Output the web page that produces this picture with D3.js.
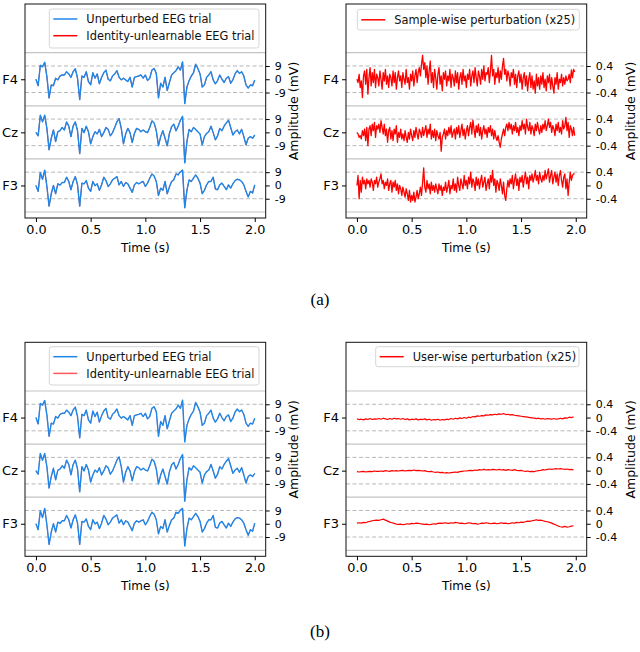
<!DOCTYPE html>
<html>
<head>
<meta charset="utf-8">
<script src="https://cdn.jsdelivr.net/npm/d3@7"></script>
<style>
  body { margin: 0; background: #fff; }
  svg { display: block; font-family: 'DejaVu Sans', sans-serif; }
</style>
</head>
<body>
<svg id="chart" width="640" height="652"></svg>
<script>
// channels, top to bottom
const channels = ['F4', 'Cz', 'F3'];
const timeTicks = [0, 0.5, 1.0, 1.5, 2.0];
const eegTicks = [9, 0, -9];
const eegTickLabels = ['9', '0', '-9'];
const pertTicks = [0.4, 0, -0.4];
const pertTickLabels = ['0.4', '0', '-0.4'];

// sampling rates of the values below (Hz)
const trialFs = 50;
const sampleWiseFs = 100;
const userWiseFs = 50;

// unperturbed EEG trial (mV)
const trialF4 = [
  0, -4.4, 9.5, 8.4, 11.5, 1.8, -12.7, -3.8, -4.4, 0.7,
  -0.4, 2.2, 2.9, 2.9, 5.1, 3.6, 1.3, 5.1, 7.1, 0.7,
  -13.8, 2.2, 1.3, 5.1, -1.6, -3.8, 4.4, 0.7, 3.6, -3.1,
  1.3, 4.4, 6.2, 0, -1.1, 2.2, 3.6, 5.8, 1.3, -0.4,
  0.7, -0.4, -1.6, 1.3, -5.3, 1.3, 1.8, 2.2, 2.9, 0.7,
  2.9, -0.9, 0.7, 6.2, 7.3, 4, -12.7, -2.7, -5.3, 1.3,
  -7.6, -2.2, 2.9, 4.4, 5.8, 8.4, 6.2, 11.8, -16.5, -5.3,
  -0.9, 2.2, 4.4, 10.2, 7.3, 3.6, -5.3, -3.8, 1.3, 2.9,
  5.1, -0.4, -3.1, -0.9, 2.9, 0, -2.2, 0.7, 1.8, -2.7,
  -0.4, 3.6, 5.8, 4, 5.1, 2.2, -3.8, -6, -3.8, -4.4,
  -0.5
];
const trialCz = [
  0, -2.4, 11.6, 7.1, 11.6, 2.7, -11.8, -4, 1.6, -6.2,
  0.4, 1.1, 3.3, 1.6, 7.1, 4.2, -2.9, 4.2, 7.1, 1.1,
  -14.4, 2.7, -0.2, 4.2, 0.4, -7.8, -2.9, 0.4, -1.1, 2,
  -2.9, -0.2, 3.3, 2, -2.4, -0.2, 3.3, 7.1, 9.3, 2.7,
  -7.8, -1.1, 2.7, -0.2, -6.9, -0.7, 2.7, 2, 0.4, 1.6,
  0.4, -0.2, 3.3, 7.8, 6.4, 1.1, -9.1, -2.9, 1.1, -4,
  -9.1, -0.7, 3.8, 5.6, 1.1, 4.2, 8.2, 10.9, -20.7, -6.2,
  2, 0.4, 3.3, 2, 0.4, -1.1, -8.4, -2.9, -0.7, 0.4,
  4.2, -0.2, -5.1, -2.4, 2.7, 1.1, 4.2, 6.4, 8.2, 3.3,
  -1.8, 0.4, 1.6, -1.1, 2, -2.9, -8.4, -4, -2.9, -4,
  -1.8
];
const trialF3 = [
  0, -4, 8.7, 4.2, 10.4, -0.7, -14, -5.6, 0, -5.6,
  1.1, 0.2, 2, 2, 5.6, 2.7, -2.9, 2.7, 6, 0.4,
  -14, 1.6, 1.1, 3.3, -1.8, -4, 2.7, -0.2, 1.1, -3.3,
  0.4, 5.6, 3.3, -0.7, 1.1, 3.8, 4.9, 6, 0.4, 2.7,
  -0.7, 2, 1.1, -1.8, -4.7, 0.4, 2, 1.1, 2, 2.7,
  -0.7, 1.6, 4.9, 7.8, 6.4, 2.7, -6.9, -1.8, -3.3, 2.7,
  -5.6, -1.1, 2.7, 3.8, 7.8, 7.1, 9.3, 10.4, -15.1, -3.3,
  3.8, 2.7, 4.9, 7.1, 4.9, 1.6, -5.6, -3.3, 0.4, 2.7,
  2.7, 5.6, -2.4, -2.9, 0.4, 1.6, -0.7, -2.9, 0.4, -1.8,
  1.1, 3.3, 4.2, 3.8, 2.7, 0.4, -4, -7.8, -4, -5.1,
  0.4
];

// sample-wise perturbation, shown x25 (mV)
const sampleF4 = [
  0.00, -0.10, 0.15, -0.25, -0.05, -0.55, 0.10, 0.25, -0.15, 0.30,
  -0.45, 0.05, 0.35, -0.20, 0.20, -0.10, 0.30, -0.25, 0.15, 0.05,
  -0.20, 0.25, 0.00, -0.30, 0.20, -0.05, 0.30, -0.15, 0.10, -0.25,
  0.15, 0.05, -0.20, 0.25, -0.10, 0.20, -0.30, 0.05, 0.25, -0.05,
  0.10, -0.25, 0.20, 0.00, -0.15, 0.30, -0.10, 0.05, -0.30, 0.15,
  -0.05, 0.25, -0.20, 0.10, 0.30, -0.10, 0.20, 0.35, 0.10, 0.45,
  0.72, 0.30, 0.50, 0.05, 0.40, -0.15, 0.25, 0.55, -0.10, 0.20,
  -0.25, 0.30, 0.05, -0.30, 0.15, 0.35, -0.15, 0.10, -0.35, 0.20,
  0.00, 0.25, -0.20, 0.10, -0.05, 0.30, -0.25, 0.15, 0.05, -0.20,
  0.25, -0.10, 0.20, -0.30, 0.05, 0.20, -0.15, 0.30, -0.05, 0.10,
  -0.25, 0.15, 0.00, 0.30, -0.20, 0.10, 0.25, -0.10, 0.35, 0.05,
  -0.20, 0.25, 0.10, -0.15, 0.30, 0.00, 0.40, -0.05, 0.20, 0.15,
  0.35, -0.10, 0.25, 0.72, 0.10, 0.30, -0.15, 0.20, 0.05, 0.35,
  -0.10, 0.25, 0.00, 0.40, 0.63, 0.15, 0.30, -0.05, 0.25, 0.10,
  -0.20, 0.20, 0.05, 0.30, -0.15, 0.15, -0.25, 0.10, 0.25, -0.10,
  0.15, -0.30, 0.05, 0.20, -0.20, 0.10, -0.35, 0.00, 0.20, -0.25,
  0.10, -0.30, -0.05, -0.42, 0.15, -0.20, 0.05, -0.30, 0.10, -0.15,
  0.20, -0.25, 0.00, -0.35, 0.10, -0.10, 0.15, -0.30, 0.05, -0.20,
  -0.42, 0.05, -0.15, 0.20, -0.30, 0.00, -0.10, 0.15, -0.20, 0.05,
  -0.15, 0.10, -0.05, 0.00, 0.15, -0.10, 0.28, 0.05, 0.30, 0.22
];
const sampleCz = [
  0.00, -0.05, -0.15, -0.10, -0.20, 0.05, -0.10, 0.10, -0.25, 0.15,
  -0.40, 0.10, 0.20, -0.10, 0.25, 0.05, 0.30, -0.15, 0.20, 0.10,
  0.25, 0.00, 0.35, 0.15, -0.05, 0.25, -0.10, 0.10, -0.30, 0.05,
  0.15, -0.20, 0.05, -0.25, 0.10, -0.05, 0.20, -0.30, 0.00, -0.15,
  0.10, -0.20, -0.05, -0.25, 0.05, -0.15, -0.30, 0.00, -0.20, 0.10,
  -0.10, -0.25, 0.05, -0.15, 0.15, -0.05, -0.20, 0.10, 0.00, -0.15,
  0.15, -0.10, 0.05, 0.20, -0.15, 0.10, -0.05, 0.25, -0.20, 0.05,
  -0.15, 0.10, -0.25, 0.05, -0.10, -0.20, 0.00, -0.57, -0.15, -0.05,
  0.10, -0.20, 0.05, -0.10, 0.15, -0.05, 0.20, -0.15, 0.00, 0.10,
  -0.20, 0.15, -0.05, 0.20, -0.15, 0.05, 0.25, -0.10, 0.10, -0.20,
  0.05, 0.20, -0.10, 0.15, 0.30, -0.05, 0.37, 0.10, -0.15, 0.20,
  0.00, 0.25, -0.10, 0.15, -0.20, 0.05, 0.20, -0.05, 0.10, -0.15,
  0.15, 0.00, 0.20, -0.10, 0.10, -0.20, 0.05, -0.15, -0.25, -0.10,
  -0.30, -0.45, -0.20, -0.05, 0.10, -0.10, 0.15, 0.25, 0.05, 0.30,
  0.10, 0.25, -0.05, 0.20, 0.05, 0.30, 0.00, 0.15, -0.10, 0.20,
  0.05, 0.35, 0.10, 0.25, -0.05, 0.40, 0.15, 0.05, 0.30, -0.05,
  0.20, 0.10, -0.10, 0.25, 0.05, 0.30, 0.10, -0.05, 0.20, 0.00,
  0.25, 0.10, 0.35, 0.05, 0.20, 0.40, 0.15, 0.30, 0.00, 0.20,
  0.10, -0.10, 0.25, 0.05, 0.30, 0.00, 0.15, -0.05, 0.35, 0.10,
  0.20, 0.45, 0.05, 0.30, -0.15, 0.20, 0.10, -0.10, 0.15, -0.10
];
const sampleF3 = [
  0.00, 0.30, -0.40, 0.15, -0.20, 0.25, 0.05, 0.15, -0.10, 0.20,
  0.05, 0.15, -0.05, 0.20, 0.10, -0.15, 0.15, 0.05, 0.25, -0.05,
  0.10, 0.20, 0.35, 0.05, 0.15, -0.10, 0.10, 0.00, 0.20, -0.15,
  0.05, 0.15, -0.20, 0.10, -0.05, 0.15, -0.15, 0.05, -0.25, 0.00,
  -0.10, -0.30, -0.05, -0.20, -0.35, -0.10, -0.25, -0.45, -0.15, -0.50,
  -0.30, -0.45, -0.20, -0.50, -0.35, -0.15, -0.40, -0.25, -0.05, -0.30,
  0.10, 0.53, -0.05, -0.20, 0.15, -0.10, 0.05, -0.25, 0.10, -0.15,
  0.00, -0.20, 0.05, -0.10, -0.25, 0.05, -0.15, 0.00, -0.30, -0.05,
  -0.15, 0.10, -0.20, -0.05, 0.15, -0.25, 0.00, -0.10, 0.20, -0.15,
  0.05, -0.20, 0.25, 0.00, -0.15, 0.20, 0.05, -0.10, 0.30, 0.00,
  0.15, -0.10, 0.25, 0.05, 0.40, -0.05, 0.20, 0.10, -0.15, 0.25,
  0.00, 0.20, -0.10, 0.15, 0.30, -0.05, 0.10, 0.25, -0.15, 0.05,
  0.20, -0.10, 0.30, 0.10, 0.45, 0.00, 0.20, -0.20, 0.15, 0.05,
  -0.15, 0.20, 0.00, -0.25, 0.10, -0.30, -0.45, -0.10, 0.15, -0.05,
  0.20, 0.05, 0.30, -0.10, 0.15, 0.35, 0.00, 0.20, -0.15, 0.25,
  0.10, 0.30, -0.05, 0.20, 0.40, 0.05, 0.25, -0.10, 0.30, 0.15,
  0.35, 0.10, 0.25, 0.45, 0.15, 0.30, 0.05, 0.40, 0.20, 0.10,
  0.30, 0.15, 0.45, 0.20, 0.35, 0.50, 0.10, 0.30, 0.45, 0.05,
  0.25, 0.40, 0.10, 0.35, 0.00, 0.30, 0.45, 0.15, -0.05, 0.25,
  0.35, -0.10, 0.20, -0.30, 0.10, 0.40, 0.15, 0.30, 0.35, 0.35
];

// user-wise perturbation, shown x25 (mV)
const userF4 = [
  -0.04, -0.06, -0.05, -0.07, -0.04, -0.06, -0.03, -0.06, -0.04, -0.05,
  -0.03, -0.05, -0.02, -0.04, -0.06, -0.03, -0.05, -0.02, -0.04, -0.03,
  -0.05, -0.03, -0.06, -0.04, -0.07, -0.05, -0.06, -0.04, -0.07, -0.05,
  -0.06, -0.04, -0.07, -0.05, -0.08, -0.06, -0.07, -0.05, -0.08, -0.06,
  -0.07, -0.05, -0.06, -0.03, -0.05, -0.02, -0.04, -0.01, -0.03, 0.00,
  -0.02, 0.01, 0.00, 0.03, 0.02, 0.05, 0.04, 0.06, 0.05, 0.08,
  0.07, 0.09, 0.08, 0.10, 0.09, 0.11, 0.10, 0.12, 0.09, 0.10,
  0.08, 0.09, 0.07, 0.06, 0.05, 0.04, 0.03, 0.02, 0.01, 0.00,
  -0.01, -0.02, -0.03, -0.02, -0.04, -0.03, -0.05, -0.03, -0.04, -0.05,
  -0.03, -0.05, -0.04, -0.02, -0.04, -0.01, -0.02, 0.01, 0.00, 0.02
];
const userCz = [
  -0.03, -0.04, -0.03, -0.02, -0.04, -0.03, -0.02, -0.03, -0.01, -0.02,
  -0.02, -0.01, -0.02, 0.00, -0.01, -0.02, 0.00, -0.01, 0.00, -0.01,
  0.00, 0.01, -0.01, 0.00, 0.01, 0.00, 0.02, 0.00, 0.01, 0.00,
  -0.01, 0.00, -0.02, -0.03, -0.02, -0.04, -0.05, -0.04, -0.06, -0.05,
  -0.07, -0.06, -0.07, -0.06, -0.05, -0.04, -0.05, -0.03, -0.02, -0.01,
  -0.01, 0.00, 0.01, 0.00, 0.02, 0.01, 0.03, 0.02, 0.04, 0.02,
  0.03, 0.02, 0.04, 0.03, 0.02, 0.04, 0.02, 0.03, 0.01, 0.03,
  0.02, 0.01, 0.03, 0.01, 0.00, 0.01, -0.01, -0.02, -0.01, -0.03,
  -0.02, -0.03, -0.01, 0.00, 0.01, 0.03, 0.02, 0.04, 0.05, 0.04,
  0.05, 0.06, 0.05, 0.06, 0.05, 0.04, 0.05, 0.03, 0.04, 0.02
];
const userF3 = [
  0.02, 0.03, 0.02, 0.04, 0.03, 0.06, 0.07, 0.09, 0.10, 0.11,
  0.10, 0.12, 0.14, 0.11, 0.08, 0.05, 0.03, 0.01, -0.01, -0.02,
  -0.01, -0.03, -0.02, 0.00, -0.01, 0.01, 0.00, 0.02, 0.01, 0.00,
  -0.01, -0.02, -0.01, -0.03, -0.02, 0.00, -0.01, 0.01, 0.02, 0.01,
  0.03, 0.02, 0.01, 0.03, 0.02, 0.04, 0.03, 0.01, 0.02, 0.00,
  0.01, 0.03, 0.02, 0.00, 0.01, -0.01, 0.00, 0.02, 0.01, 0.03,
  0.02, 0.00, 0.01, 0.02, 0.00, 0.01, 0.03, 0.01, 0.02, 0.00,
  0.01, 0.03, 0.02, 0.04, 0.03, 0.05, 0.04, 0.06, 0.08, 0.07,
  0.09, 0.10, 0.12, 0.10, 0.11, 0.09, 0.07, 0.06, 0.04, 0.02,
  -0.01, -0.04, -0.07, -0.09, -0.10, -0.08, -0.10, -0.09, -0.07, -0.06
];

const BLUE = '#1f87e8';
const RED = '#ff0000';
const PW = 240.7; // axes width
const PH = 214; // axes height

const trial = [trialF4, trialCz, trialF3];
const sampleWise = [sampleF4, sampleCz, sampleF3];
const userWise = [userF4, userCz, userF3];

// identity-unlearnable trial = trial + perturbation (un-scaled by 25)
const addPert = (base, pert, step) =>
  base.map((arr, c) => arr.map((v, i) => v + (pert[c][i * step] ?? 0) / 25));

const svg = d3.select('#chart');

function drawLegend(box, items) {
  const g = svg.append('g');
  g.append('rect')
    .attr('x', box.x)
    .attr('y', box.y)
    .attr('width', box.w)
    .attr('height', box.h)
    .attr('rx', 2.5)
    .attr('fill', '#fff')
    .attr('stroke', '#d6d6d6')
    .attr('stroke-width', 1);

  items.forEach((it, i) => {
    const yy = box.y + box.first + i * 16.7;
    g.append('line')
      .attr('x1', box.x + 4)
      .attr('x2', box.x + 28)
      .attr('y1', yy)
      .attr('y2', yy)
      .attr('stroke', it.color)
      .attr('stroke-opacity', it.opacity ?? 1)
      .attr('stroke-width', 1.5);
    g.append('text')
      .attr('x', box.x + 37)
      .attr('y', yy)
      .attr('dy', '0.36em')
      .attr('font-size', '11.4px')
      .attr('fill', '#111')
      .text(it.label);
  });
}

function drawPanel(p) {
  const g = svg.append('g');
  const x = d3.scaleLinear().domain([-0.1, 2.1]).range([p.left, p.left + PW]);
  const y = d3
    .scaleLinear()
    .domain([-p.spacing / 2, p.spacing * 2.5])
    .range([p.top + 208, p.top + 48.7]);
  const offsets = channels.map((c, i) => (2 - i) * p.spacing);

  // channel separators (solid) and +/- tick lines (dashed)
  [-0.5, 0.5, 1.5, 2.5].forEach((k) => {
    g.append('line')
      .attr('x1', p.left)
      .attr('x2', p.left + PW)
      .attr('y1', y(k * p.spacing))
      .attr('y2', y(k * p.spacing))
      .attr('stroke', '#c4c4c4')
      .attr('stroke-width', 1.2);
  });
  offsets.forEach((o) => {
    p.ticks
      .filter((t) => t !== 0)
      .forEach((t) => {
        g.append('line')
          .attr('x1', p.left)
          .attr('x2', p.left + PW)
          .attr('y1', y(o + t))
          .attr('y2', y(o + t))
          .attr('stroke', '#b0b0b0')
          .attr('stroke-width', 0.9)
          .attr('stroke-dasharray', '4,2.5');
      });
  });

  // traces
  p.traces.forEach((tr) => {
    tr.data.forEach((arr, c) => {
      const line = d3
        .line()
        .x((d, i) => x(i / tr.fs))
        .y((d) => y(d + offsets[c]));
      g.append('path')
        .datum(arr)
        .attr('d', line)
        .attr('fill', 'none')
        .attr('stroke', tr.color)
        .attr('stroke-opacity', tr.opacity ?? 1)
        .attr('stroke-width', tr.width ?? 1.5)
        .attr('stroke-linejoin', 'round');
    });
  });

  // frame
  g.append('rect')
    .attr('x', p.left)
    .attr('y', p.top)
    .attr('width', PW)
    .attr('height', PH)
    .attr('fill', 'none')
    .attr('stroke', '#111')
    .attr('stroke-width', 1);

  // left: channel names
  const yl = g
    .append('g')
    .attr('transform', `translate(${p.left},0)`)
    .call(
      d3
        .axisLeft(y)
        .tickValues(offsets)
        .tickFormat((d, i) => channels[i])
        .tickSize(4)
        .tickPadding(3)
    );
  yl.select('.domain').remove();
  yl.attr('font-family', null).attr('font-size', '13px');

  // right: amplitude ticks
  const rightVals = offsets.flatMap((o) => p.ticks.map((t) => o + t));
  const yr = g
    .append('g')
    .attr('transform', `translate(${p.left + PW},0)`)
    .call(
      d3
        .axisRight(y)
        .tickValues(rightVals)
        .tickFormat((d, i) => p.tickLabels[i % 3])
        .tickSize(4)
        .tickPadding(5)
    );
  yr.select('.domain').remove();
  yr.attr('font-family', null).attr('font-size', '11px');

  // bottom: time
  const xa = g
    .append('g')
    .attr('transform', `translate(0,${p.top + PH})`)
    .call(
      d3
        .axisBottom(x)
        .tickValues(timeTicks)
        .tickFormat(d3.format('.1f'))
        .tickSize(4)
        .tickPadding(3)
    );
  xa.select('.domain').remove();
  xa.attr('font-family', null).attr('font-size', '12.8px');

  g.append('text')
    .attr('x', p.left + PW / 2)
    .attr('y', p.top + 248)
    .attr('text-anchor', 'middle')
    .attr('font-size', '12px')
    .text('Time (s)');

  g.append('text')
    .attr('transform', `translate(${p.left + PW + p.labelGap},${p.top + PH / 2}) rotate(-90)`)
    .attr('text-anchor', 'middle')
    .attr('dy', '0.35em')
    .attr('font-size', '12.5px')
    .text('Amplitude (mV)');

  drawLegend(p.legend, p.legendItems);
}

const panels = [
  {
    left: 25, top: 4, spacing: 36, ticks: eegTicks, tickLabels: eegTickLabels, labelGap: 28,
    traces: [
      { data: addPert(trial, sampleWise, 2), fs: trialFs, color: RED, width: 0.8 },
      { data: trial, fs: trialFs, color: BLUE, width: 1.4 },
    ],
    legend: { x: 49.3, y: 9, w: 209.7, h: 39, first: 10 },
    legendItems: [
      { label: 'Unperturbed EEG trial', color: BLUE },
      { label: 'Identity-unlearnable EEG trial', color: RED },
    ],
  },
  {
    left: 346, top: 4, spacing: 1.6, ticks: pertTicks, tickLabels: pertTickLabels, labelGap: 44,
    traces: [{ data: sampleWise, fs: sampleWiseFs, color: RED, width: 1.3 }],
    legend: { x: 357.3, y: 9.3, w: 222, h: 20.7, first: 10.5 },
    legendItems: [{ label: 'Sample-wise perturbation (x25)', color: RED }],
  },
  {
    left: 25, top: 342.3, spacing: 36, ticks: eegTicks, tickLabels: eegTickLabels, labelGap: 28,
    traces: [
      { data: addPert(trial, userWise, 1), fs: trialFs, color: RED, opacity: 0.65, width: 0.8 },
      { data: trial, fs: trialFs, color: BLUE, width: 1.4 },
    ],
    legend: { x: 49.3, y: 346.7, w: 209.7, h: 38.3, first: 10 },
    legendItems: [
      { label: 'Unperturbed EEG trial', color: BLUE },
      { label: 'Identity-unlearnable EEG trial', color: RED, opacity: 0.65 },
    ],
  },
  {
    left: 346, top: 342.3, spacing: 1.6, ticks: pertTicks, tickLabels: pertTickLabels, labelGap: 44,
    traces: [{ data: userWise, fs: userWiseFs, color: RED, width: 1.2 }],
    legend: { x: 375.7, y: 346.7, w: 203.3, h: 20, first: 10 },
    legendItems: [{ label: 'User-wise perturbation (x25)', color: RED }],
  },
];

panels.forEach(drawPanel);

// sub-figure captions
[['(a)', 305], ['(b)', 637]].forEach(([label, yy]) => {
  svg
    .append('text')
    .attr('x', 320)
    .attr('y', yy)
    .attr('text-anchor', 'middle')
    .attr('font-family', "'Liberation Serif', serif")
    .attr('font-size', '17px')
    .text(label);
});
</script>
</body>
</html>
